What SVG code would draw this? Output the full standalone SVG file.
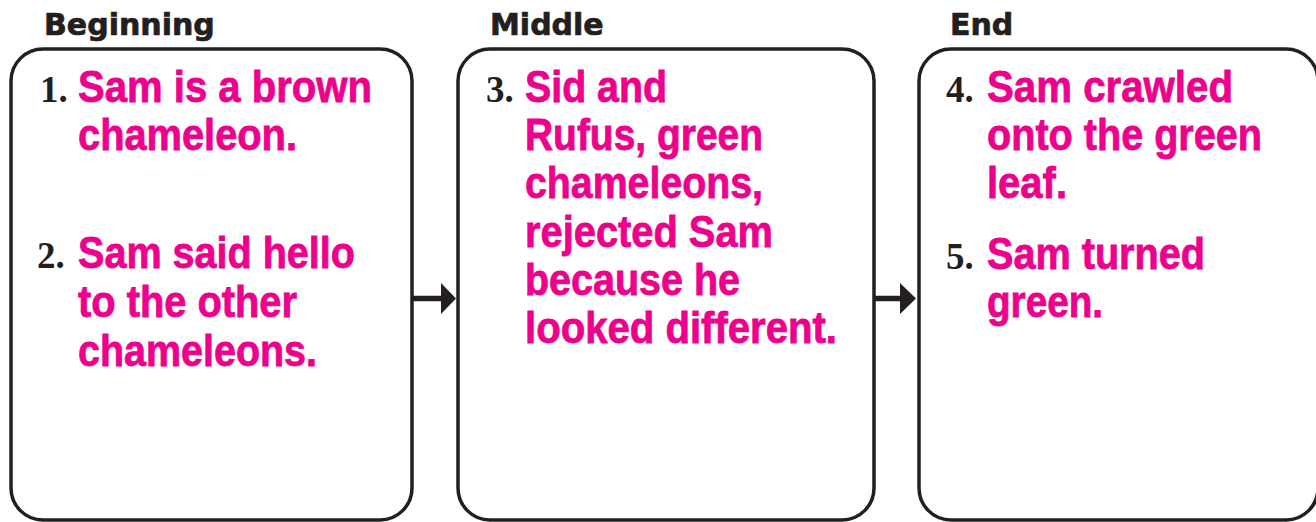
<svg xmlns="http://www.w3.org/2000/svg" width="1316" height="522" viewBox="0 0 1316 522">
<style>
.box{fill:#fff;stroke:#231f20;stroke-width:3.5}
.hdr{font-family:"DejaVu Sans",sans-serif;font-weight:bold;font-size:30px;fill:#231f20;stroke:#231f20;stroke-width:0.7}
.num{font-family:"Liberation Serif",serif;font-weight:bold;font-size:37px;fill:#231f20}
.txt{font-family:"Liberation Sans",Arial,sans-serif;font-weight:bold;font-size:45px;fill:#ec008c;stroke:#ec008c;stroke-width:0.8}
.conn{stroke:#231f20;stroke-width:5.5;fill:none}
.head{fill:#231f20}
</style>
<rect width="1316" height="522" fill="#fff"/>
<g id="beginning">
<text class="hdr" x="44" y="35">Beginning</text>
<rect class="box" x="11" y="49" width="401" height="471" rx="32" ry="32"/>
<text class="num" x="40" y="102">1.</text>
<text class="txt" x="78" y="102" textLength="294" lengthAdjust="spacingAndGlyphs">Sam is a brown</text>
<text class="txt" x="78" y="150" textLength="219" lengthAdjust="spacingAndGlyphs">chameleon.</text>
<text class="num" x="37" y="268">2.</text>
<text class="txt" x="78" y="268" textLength="277" lengthAdjust="spacingAndGlyphs">Sam said hello</text>
<text class="txt" x="78" y="317" textLength="219" lengthAdjust="spacingAndGlyphs">to the other</text>
<text class="txt" x="78" y="366" textLength="239" lengthAdjust="spacingAndGlyphs">chameleons.</text>
</g>
<g id="middle">
<text class="hdr" x="490" y="35">Middle</text>
<rect class="box" x="458" y="49" width="416" height="471" rx="32" ry="32"/>
<text class="num" x="486" y="102">3.</text>
<text class="txt" x="525" y="102" textLength="142" lengthAdjust="spacingAndGlyphs">Sid and</text>
<text class="txt" x="525" y="150" textLength="238" lengthAdjust="spacingAndGlyphs">Rufus, green</text>
<text class="txt" x="525" y="198" textLength="238" lengthAdjust="spacingAndGlyphs">chameleons,</text>
<text class="txt" x="525" y="247" textLength="248" lengthAdjust="spacingAndGlyphs">rejected Sam</text>
<text class="txt" x="525" y="295" textLength="215" lengthAdjust="spacingAndGlyphs">because he</text>
<text class="txt" x="525" y="343" textLength="312" lengthAdjust="spacingAndGlyphs">looked different.</text>
</g>
<g id="end">
<text class="hdr" x="950" y="35">End</text>
<rect class="box" x="919" y="49" width="399" height="471" rx="32" ry="32"/>
<text class="num" x="946" y="102">4.</text>
<text class="txt" x="987" y="102" textLength="246" lengthAdjust="spacingAndGlyphs">Sam crawled</text>
<text class="txt" x="987" y="150" textLength="275" lengthAdjust="spacingAndGlyphs">onto the green</text>
<text class="txt" x="987" y="198" textLength="80" lengthAdjust="spacingAndGlyphs">leaf.</text>
<text class="num" x="946" y="269">5.</text>
<text class="txt" x="987" y="269" textLength="218" lengthAdjust="spacingAndGlyphs">Sam turned</text>
<text class="txt" x="987" y="317" textLength="116" lengthAdjust="spacingAndGlyphs">green.</text>
</g>
<g id="connectors">
<line class="conn" x1="413" y1="298.5" x2="442" y2="298.5"/>
<polygon class="head" points="441,283 456,298.5 441,314"/>
<line class="conn" x1="875" y1="298.5" x2="901" y2="298.5"/>
<polygon class="head" points="900,283 916,298.5 900,314"/>
</g>
</svg>
